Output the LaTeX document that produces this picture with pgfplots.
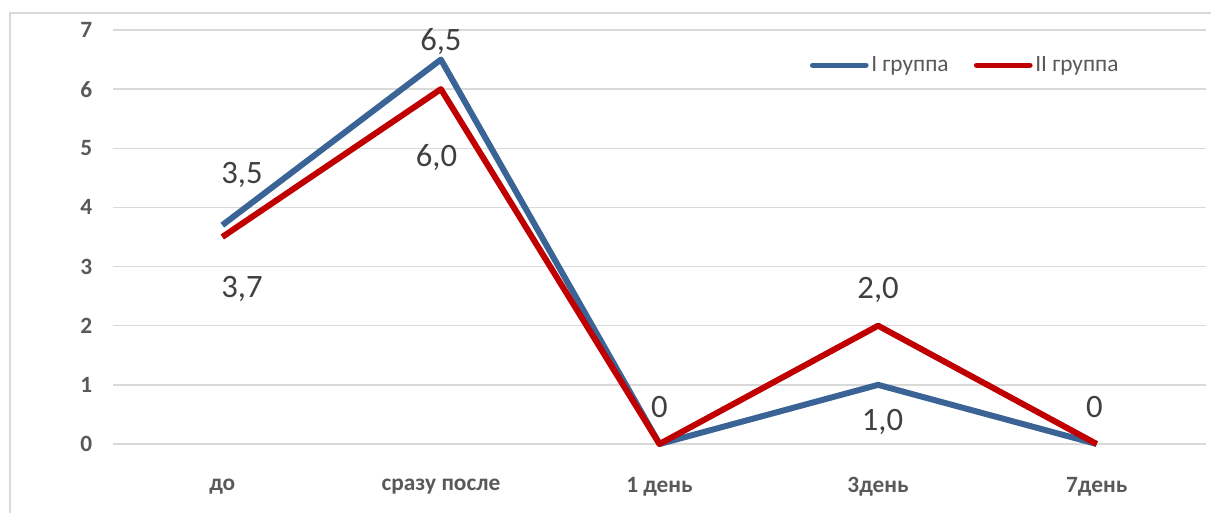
\documentclass[border=0pt]{standalone}
\usepackage{fontspec}
\setmainfont{Carlito}
\usepackage{pgfplots}
\pgfplotsset{compat=1.18}
\definecolor{gridgray}{HTML}{D9D9D9}
\definecolor{ticktext}{HTML}{595959}
\definecolor{labeltext}{HTML}{404040}
\definecolor{blueline}{HTML}{3A6496}
\definecolor{redline}{HTML}{C00000}
\begin{document}
\begin{tikzpicture}
\path[use as bounding box] (0,0) rectangle (908.25pt,384.75pt);
\draw[gridgray, line width=1.5pt] (7.5pt,375pt) rectangle (930pt,-20pt);
\begin{axis}[
  at={(84.75pt,51.75pt)}, anchor=south west,
  scale only axis, width=819.75pt, height=310.5pt,
  xmin=-0.5, xmax=4.5, ymin=0, ymax=7,
  xtick={0,1,2,3,4},
  xticklabels={до, сразу после, 1 день, 3день, 7день},
  ytick={0,1,2,3,4,5,6,7},
  ymajorgrids, grid style={gridgray, line width=1pt},
  axis line style={draw=none},
  major tick length=0pt,
  /pgf/number format/assume math mode=true,
  tick label style={font=\bfseries\fontsize{17.5}{20}\selectfont, text=ticktext},
  xticklabel style={anchor=center, yshift=-32pt},
  yticklabel style={anchor=center, xshift=-20pt},
  legend style={at={(0.78,0.915)}, anchor=center, draw=none, fill=none,
    font=\fontsize{17.5}{20}\selectfont, text=ticktext,
    nodes={inner sep=2pt},
    /tikz/every even column/.append style={column sep=17pt}},
  legend columns=2,
  legend image code/.code={\draw[#1, line width=4pt, line cap=round] (0pt,0pt) -- (40pt,0pt);},
  clip=false,
]
\addplot[blueline, line width=4.5pt, line join=round] coordinates {(0,3.7) (1,6.5) (2,0) (3,1) (4,0)};
\addlegendentry{I группа}
\addplot[redline, line width=4.5pt, line join=round] coordinates {(0,3.5) (1,6.0) (2,0) (3,2) (4,0)};
\addlegendentry{II группа}
\begin{scope}[every node/.style={font=\fontsize{24.5}{28}\selectfont, text=labeltext}]
\node at (axis cs:0.09,4.55) {3,5};
\node at (axis cs:0.09,2.62) {3,7};
\node at (axis cs:1,6.80) {6,5};
\node at (axis cs:0.98,4.84) {6,0};
\node at (axis cs:2,0.63) {0};
\node at (axis cs:3,2.61) {2,0};
\node at (axis cs:3.02,0.37) {1,0};
\node at (axis cs:3.99,0.63) {0};
\end{scope}
\end{axis}
\end{tikzpicture}
\end{document}
